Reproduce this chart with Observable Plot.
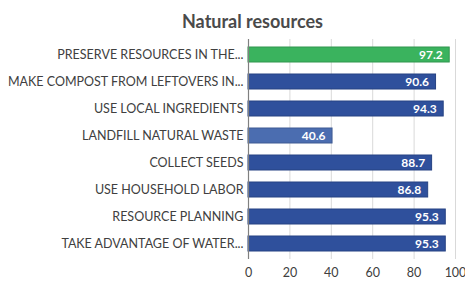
<!DOCTYPE html>
<html>
<head>
<meta charset="utf-8">
<script src="https://cdn.jsdelivr.net/npm/d3@7"></script>
<script src="https://cdn.jsdelivr.net/npm/@observablehq/plot@0.6"></script>
<style>
  html, body { margin: 0; padding: 0; background: #fff; }
  #wrap { width: 465px; height: 281px; position: relative; overflow: hidden; }
  #title { position: absolute; top: 10px; left: 0; width: 505px; text-align: center;
           font-family: Lato, "Open Sans", sans-serif; font-weight: bold; font-size: 18px; color: #4a4a4a; }
  #chart { position: absolute; top: 32px; left: 0; }
</style>
</head>
<body>
<div id="wrap">
  <div id="title">Natural resources</div>
  <div id="chart"></div>
</div>
<script>
const categories = [
  "PRESERVE RESOURCES IN THE...",
  "MAKE COMPOST FROM LEFTOVERS IN...",
  "USE LOCAL INGREDIENTS",
  "LANDFILL NATURAL WASTE",
  "COLLECT SEEDS",
  "USE HOUSEHOLD LABOR",
  "RESOURCE PLANNING",
  "TAKE ADVANTAGE OF WATER..."
];
const values = [97.2, 90.6, 94.3, 40.6, 88.7, 86.8, 95.3, 95.3];
const xTicks = [0, 20, 40, 60, 80, 100];

const barColors = ["#3ab35e", "#2f509c", "#2f509c", "#4b6db0", "#2f509c", "#2f509c", "#2f509c", "#2f509c"];

const data = categories.map((c, i) => ({category: c, value: values[i], color: barColors[i]}));

const chart = Plot.plot({
  width: 465,
  height: 249,
  marginTop: 7,
  marginBottom: 22,
  marginLeft: 248,
  marginRight: 10,
  style: {fontFamily: "Lato, 'Open Sans', sans-serif", background: "transparent"},
  x: {domain: [0, 100], ticks: xTicks, label: null},
  y: {domain: categories, paddingInner: 0.45, paddingOuter: 0.225, label: null},
  marks: [
    Plot.gridX(xTicks.filter(d => d > 0), {stroke: "#d9d9d9", strokeOpacity: 1}),
    Plot.barX(data, {y: "category", x: "value", fill: "color", stroke: d => d3.color(d.color).darker(0.5).formatHex(), strokeWidth: 1}),
    Plot.ruleX([0], {stroke: "#808080", strokeWidth: 1.2}),
    Plot.text(data, {y: "category", x: "value", text: d => d.value.toFixed(1), textAnchor: "end", dx: -7,
      fill: "white", fontWeight: "bold", fontSize: 12}),
    Plot.axisY({tickSize: 0, tickPadding: 5, fontSize: 12.5, color: "#404040", label: null}),
    Plot.axisX({ticks: xTicks, tickSize: 0, tickPadding: 9, fontSize: 12.5, color: "#404040", label: null})
  ]
});
document.getElementById("chart").appendChild(chart);
</script>
</body>
</html>
